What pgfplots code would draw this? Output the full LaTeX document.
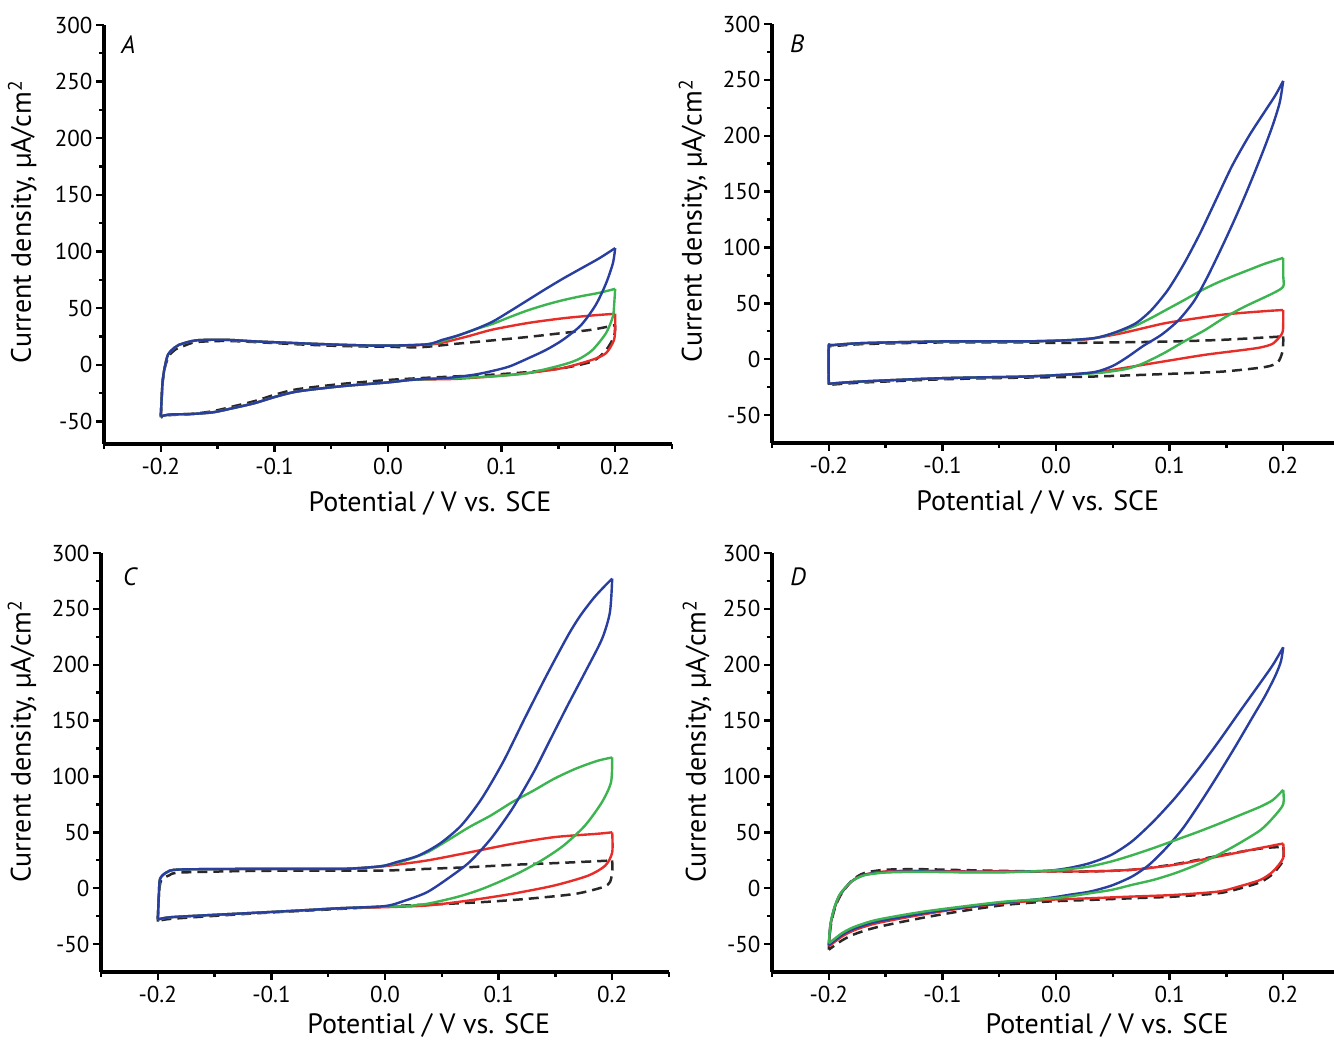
\documentclass[border=0pt]{standalone}
\usepackage{pgfplots}
\pgfplotsset{compat=1.18}
\usepackage{fontspec}
\setmainfont{PT Sans}

\definecolor{cvblue}{RGB}{40,62,160}
\definecolor{cvgreen}{RGB}{60,180,80}
\definecolor{cvred}{RGB}{232,45,40}
\definecolor{cvgray}{RGB}{40,40,40}

\newcommand{\ticksize}{\fontsize{23}{26}\selectfont}
\newcommand{\labsize}{\fontsize{28}{32}\selectfont}
\newcommand{\letsize}{\fontsize{25}{28}\selectfont\itshape}

\pgfplotsset{
  cvaxis/.style={
    scale only axis, width=568pt, height=419pt,
    anchor=south west,
    xmin=-0.25, xmax=0.25, ymin=-75, ymax=300,
    axis x line*=bottom, axis y line*=left,
    axis line style={-, line width=3.2pt, black},
    xtick={-0.2,-0.1,0,0.1,0.2},
    xticklabels={-0.2,-0.1,0.0,0.1,0.2},
    minor xtick={-0.25,-0.15,-0.05,0.05,0.15,0.25},
    ytick={-50,0,...,300},
    yticklabels={-50,0,50,100,150,200,250,300},
    minor ytick={-25,25,75,...,275},
    tick align=outside, major tick length=8pt, minor tick length=5pt,
    tick style={black, line width=2.4pt},
    minor tick style={black, line width=2.4pt},
    tick label style={font=\ticksize},
    xticklabel style={yshift=-3pt},
    xlabel={Potential / V vs. SCE},
    ylabel={Current density, µA/cm\textsuperscript{2}},
    label style={font=\labsize},
    clip=false,
    every axis plot/.append style={line width=2.4pt, line join=round, smooth, tension=0.45},
  },
  dashcv/.style={cvgray, line width=2.5pt, dash pattern=on 10pt off 6pt},
}

\begin{document}
\begin{tikzpicture}
\path[use as bounding box] (0,0) rectangle (1334pt,1040pt);

% ---------- A ----------
\begin{axis}[cvaxis, at={(104pt,596pt)}, ymin=-70,
  xlabel style={at={(axis description cs:0.574,-0.141)}, anchor=center},
  ylabel style={at={(axis description cs:-0.144,0.53)}, anchor=center}]
% dashed
\addplot[dashcv] coordinates {
(-0.2,-46.5) (-0.1985,-17) (-0.1965,-3) (-0.193,7.5) (-0.187,13.5) (-0.18,16.5)
(-0.169,20) (-0.143,21) (-0.117,20) (-0.079,18) (-0.041,16.5) (0.0,15.8)
(0.029,15.5) (0.06,18.5) (0.092,21.5) (0.123,24.5) (0.154,28) (0.18,31) (0.2,35)};
\addplot[dashcv] coordinates {
(0.2,35) (0.199,25) (0.192,13) (0.18,3) (0.154,-3) (0.123,-6.5) (0.092,-8.8) (0.06,-10.3)
(0.029,-11.8) (0.0,-13.5) (-0.041,-17) (-0.079,-21.5) (-0.098,-26) (-0.117,-32)
(-0.135,-36.5) (-0.154,-41) (-0.173,-43.5) (-0.192,-44.5) (-0.2,-46.5)};
% red
\addplot[cvred] coordinates {
(-0.2,-45.6) (-0.1985,-16) (-0.1965,-2) (-0.1936,9) (-0.188,15) (-0.184,17.6)
(-0.169,21.5) (-0.143,22) (-0.117,20.6) (-0.079,19) (-0.041,17.6) (-0.004,16.8)
(0.034,17.6) (0.048,19.5) (0.07,25) (0.092,31) (0.123,36.8) (0.154,41) (0.18,43.5) (0.2,45)};
\addplot[cvred] coordinates {
(0.2,45) (0.2,35) (0.199,22) (0.192,10.3) (0.18,4.4) (0.154,-2.9) (0.123,-7.4) (0.092,-10.3)
(0.06,-12.5) (0.034,-13) (0.019,-13.5) (0.0,-15.6) (-0.041,-19) (-0.079,-23.5) (-0.098,-28)
(-0.117,-33.8) (-0.135,-38) (-0.154,-42) (-0.173,-43.5) (-0.192,-44) (-0.2,-45.6)};
% green
\addplot[cvgreen] coordinates {
(-0.2,-45.6) (-0.1985,-16) (-0.1965,-2) (-0.1936,9) (-0.188,15) (-0.184,17.6)
(-0.169,21.5) (-0.143,22) (-0.117,20.6) (-0.079,19) (-0.041,17.6) (-0.004,16.8)
(0.034,18) (0.048,21) (0.06,25) (0.076,31) (0.092,36) (0.107,42) (0.123,48) (0.139,53)
(0.154,57) (0.17,60.5) (0.186,63.5) (0.2,67)};
\addplot[cvgreen] coordinates {
(0.2,67) (0.199,52) (0.198,42.6) (0.192,28) (0.18,13) (0.168,5) (0.154,0) (0.123,-7.4)
(0.092,-10.3) (0.06,-11.8) (0.034,-12.8) (0.019,-13.5) (0.0,-15.6) (-0.041,-19) (-0.079,-23.5) (-0.098,-28)
(-0.117,-33.8) (-0.135,-38) (-0.154,-42) (-0.173,-43.5) (-0.192,-44) (-0.2,-45.6)};
% blue
\addplot[cvblue] coordinates {
(-0.2,-45.6) (-0.1985,-16) (-0.1965,-2) (-0.1936,9) (-0.188,15) (-0.184,17.6)
(-0.169,21.5) (-0.143,22) (-0.117,20.6) (-0.079,19) (-0.041,17.6) (-0.004,16.8)
(0.034,18) (0.048,22) (0.062,26) (0.076,31) (0.092,38) (0.107,47) (0.123,57) (0.139,67)
(0.154,76) (0.17,85) (0.186,94) (0.2,103)};
\addplot[cvblue] coordinates {
(0.2,103) (0.198,89.7) (0.192,72) (0.183,53) (0.17,35) (0.154,22) (0.139,13) (0.123,5.5) (0.107,-1.5)
(0.092,-5.5) (0.076,-8.8) (0.051,-11.8) (0.034,-12.5) (0.019,-13.5) (0.0,-15.6) (-0.041,-19)
(-0.079,-23.5) (-0.098,-28) (-0.117,-33.8) (-0.135,-38) (-0.154,-42) (-0.173,-43.5)
(-0.192,-44) (-0.2,-45.6)};
\node[font=\letsize] at (axis description cs:0.043,0.952) {A};
\end{axis}

% ---------- B ----------
\begin{axis}[cvaxis, at={(772pt,597pt)},
  xlabel style={at={(axis description cs:0.468,-0.141)}, anchor=center},
  ylabel style={at={(axis description cs:-0.139,0.53)}, anchor=center}]
\addplot[dashcv] coordinates {
(-0.2,-23) (-0.2,10) (-0.197,11.5) (-0.17,13.5) (-0.1,15) (-0.03,15) (0.0,14.5)
(0.05,15) (0.1,15.8) (0.148,17.4) (0.2,20.4)};
\addplot[dashcv] coordinates {
(0.2,20.4) (0.2,14.4) (0.199,5.4) (0.195,-3)
(0.184,-7) (0.148,-11) (0.113,-12.6) (0.077,-14) (0.03,-15.6) (-0.03,-16.5)
(-0.1,-18) (-0.172,-21) (-0.2,-23)};
\addplot[cvred] coordinates {
(-0.2,-22) (-0.2,11) (-0.197,12.5) (-0.17,14.4) (-0.1,15.9) (-0.03,15.9) (0.006,16.8)
(0.024,17.4) (0.041,20) (0.059,23.5) (0.077,27.8) (0.095,32) (0.113,35) (0.148,40)
(0.184,43) (0.2,44)};
\addplot[cvred] coordinates {
(0.2,44) (0.2,32) (0.199,23) (0.191,14) (0.18,10.5) (0.166,8.4) (0.131,3.9)
(0.095,-2) (0.077,-5) (0.059,-8) (0.041,-11) (0.024,-13) (0.006,-14) (-0.03,-15.6)
(-0.1,-17) (-0.172,-20) (-0.2,-22)};
\addplot[cvgreen] coordinates {
(-0.2,-22) (-0.2,11) (-0.197,12.5) (-0.17,14.4) (-0.1,15.9) (-0.03,15.9) (0.006,16.8)
(0.034,18.9) (0.052,23.5) (0.07,30) (0.084,37) (0.0985,45) (0.113,53) (0.127,61)
(0.141,68) (0.155,74) (0.17,80) (0.184,85.5) (0.2,90.7)};
\addplot[cvgreen] coordinates {
(0.2,90.7) (0.2,75) (0.2,65) (0.191,59)
(0.166,47) (0.148,37) (0.131,26) (0.113,16) (0.095,5.4) (0.077,-3.6) (0.063,-8.5)
(0.045,-11.5) (0.034,-12.6) (0.006,-14) (-0.03,-15.6) (-0.1,-17) (-0.172,-20) (-0.2,-22)};
\addplot[cvblue] coordinates {
(-0.2,-22) (-0.2,11) (-0.197,12.5) (-0.17,14.4) (-0.1,15.9) (-0.03,15.9) (0.006,16.8)
(0.034,18.9) (0.052,24) (0.07,32) (0.084,44) (0.0985,62) (0.113,86) (0.127,113)
(0.141,143) (0.155,173) (0.17,200) (0.184,222) (0.193,236) (0.2,249)};
\addplot[cvblue] coordinates {
(0.2,249) (0.197,230) (0.191,210) (0.183,188) (0.174,165) (0.165,143) (0.155,120)
(0.1445,97) (0.133,73) (0.1215,52) (0.108,35) (0.093,22) (0.077,12) (0.063,2)
(0.05,-6) (0.034,-11.5) (0.006,-14) (-0.03,-15.6) (-0.1,-17) (-0.172,-20) (-0.2,-22)};
\node[font=\letsize] at (axis description cs:0.044,0.952) {B};
\end{axis}

% ---------- C ----------
\begin{axis}[cvaxis, at={(101pt,68pt)},
  xlabel style={at={(axis description cs:0.577,-0.127)}, anchor=center},
  ylabel style={at={(axis description cs:-0.139,0.55)}, anchor=center}]
\addplot[dashcv] coordinates {
(-0.2,-30) (-0.199,-5) (-0.197,7) (-0.19,11.5) (-0.18,14) (-0.114,15.5) (-0.039,15.8)
(0,15.8) (0.037,17.3) (0.074,18.8) (0.112,20.9) (0.149,22.4) (0.2,24.8)};
\addplot[dashcv] coordinates {
(0.2,24.8) (0.2,14.3)
(0.198,5.4) (0.192,1) (0.168,-5) (0.131,-9) (0.093,-12) (0.055,-14) (0.018,-15.5)
(-0.039,-18.5) (-0.114,-22.5) (-0.189,-27.5) (-0.2,-30)};
\addplot[cvred] coordinates {
(-0.2,-28) (-0.199,-5) (-0.198,8.4) (-0.192,14.3) (-0.181,16.7) (-0.114,17.3)
(-0.039,17.3) (-0.012,18.8) (0,19.7) (0.037,24.8) (0.074,32) (0.112,39.7) (0.149,45.7)
(0.187,48.7) (0.2,50)};
\addplot[cvred] coordinates {
(0.2,50) (0.2,32) (0.194,20.3) (0.179,11.3) (0.149,2.4) (0.112,-5)
(0.074,-11) (0.037,-15.5) (0,-17) (-0.039,-17.9) (-0.076,-20) (-0.114,-22)
(-0.151,-23.9) (-0.189,-26) (-0.2,-28)};
\addplot[cvgreen] coordinates {
(-0.2,-28) (-0.199,-5) (-0.198,8.4) (-0.192,14.3) (-0.181,16.7) (-0.114,17.3)
(-0.039,17.3) (-0.012,18.8) (0,20.3) (0.018,24.8) (0.037,32) (0.055,42.7) (0.074,54.6)
(0.093,65) (0.112,77) (0.131,87.5) (0.149,98) (0.168,107) (0.187,114) (0.2,117)};
\addplot[cvgreen] coordinates {
(0.2,117) (0.199,95) (0.191,77) (0.176,56) (0.157,38) (0.138,25) (0.119,14.3) (0.1,5.4)
(0.082,-2) (0.063,-8) (0.037,-14) (0.018,-16) (0,-16.5) (-0.039,-17.9) (-0.076,-20)
(-0.114,-22) (-0.151,-23.9) (-0.189,-26) (-0.2,-28)};
\addplot[cvblue] coordinates {
(-0.2,-28) (-0.199,-5) (-0.198,8.4) (-0.192,14.3) (-0.181,16.7) (-0.114,17.3)
(-0.039,17.3) (-0.012,18.8) (0,20.3) (0.01,23.3) (0.029,29) (0.048,39.7) (0.067,56)
(0.085,80) (0.104,113) (0.123,152) (0.142,190) (0.161,226) (0.172,244) (0.184,260)
(0.194,271) (0.2,277)};
\addplot[cvblue] coordinates {
(0.2,277) (0.198,247) (0.191,223) (0.176,193) (0.161,164) (0.146,134) (0.131,104)
(0.112,71) (0.093,44) (0.074,23) (0.055,8.4) (0.037,-3.6) (0.018,-11) (0,-16)
(-0.039,-17.9) (-0.076,-20) (-0.114,-22) (-0.151,-23.9) (-0.189,-26) (-0.2,-28)};
\node[font=\letsize] at (axis description cs:0.051,0.943) {C};
\end{axis}

% ---------- D ----------
\begin{axis}[cvaxis, at={(772pt,68pt)},
  xlabel style={at={(axis description cs:0.59,-0.127)}, anchor=center},
  ylabel style={at={(axis description cs:-0.132,0.55)}, anchor=center}]
\addplot[dashcv] coordinates {
(-0.2,-55) (-0.1985,-35) (-0.195,-19) (-0.19,-7) (-0.18,6.5) (-0.169,13.5) (-0.15,16.5)
(-0.12,17) (-0.083,16.2) (-0.045,15.5) (-0.008,15) (0.03,15) (0.067,16.5) (0.105,21.5)
(0.143,29) (0.18,35.5) (0.2,37)};
\addplot[dashcv] coordinates {
(0.2,37) (0.2,25) (0.191,13) (0.18,5.5) (0.161,-0.5)
(0.143,-4.5) (0.105,-7.5) (0.067,-9) (0.03,-10.5) (-0.008,-12) (-0.045,-15)
(-0.083,-20.5) (-0.12,-27) (-0.158,-35) (-0.177,-41) (-0.188,-46.5) (-0.2,-55)};
\addplot[cvred] coordinates {
(-0.2,-52) (-0.1985,-33) (-0.195,-18) (-0.19,-6) (-0.18,6) (-0.169,12) (-0.15,15)
(-0.12,15.6) (-0.083,15) (-0.045,15) (-0.008,15) (0.03,15) (0.067,16.5) (0.105,21)
(0.143,28.4) (0.18,36) (0.2,40)};
\addplot[cvred] coordinates {
(0.2,40) (0.2,27) (0.191,15) (0.18,7.5) (0.161,1.5) (0.143,-3)
(0.105,-6) (0.067,-7.5) (0.03,-9) (-0.008,-10.5) (-0.045,-13.5) (-0.083,-18)
(-0.12,-24) (-0.158,-31.4) (-0.177,-37.4) (-0.188,-43) (-0.2,-52)};
\addplot[cvblue] coordinates {
(-0.2,-51) (-0.1985,-32.5) (-0.195,-17.5) (-0.19,-5.5) (-0.18,6) (-0.169,11.8)
(-0.15,14.5) (-0.12,15) (-0.083,14.6) (-0.045,14.6) (-0.008,15.6) (0.011,18)
(0.03,22.5) (0.049,30) (0.067,42) (0.086,60) (0.105,81) (0.124,105) (0.143,131)
(0.161,157) (0.18,184) (0.191,200) (0.2,215.6)};
\addplot[cvblue] coordinates {
(0.2,215.6) (0.198,203) (0.193,190) (0.184,172) (0.173,153)
(0.158,127) (0.143,102) (0.128,78) (0.112,54) (0.097,36) (0.082,21) (0.067,10.5)
(0.049,2.4) (0.03,-3) (0.011,-6) (-0.008,-9) (-0.045,-12.8) (-0.083,-17.4)
(-0.12,-23) (-0.158,-30) (-0.177,-36) (-0.188,-41.5) (-0.2,-51)};
\addplot[cvgreen] coordinates {
(-0.2,-49.4) (-0.1985,-32) (-0.195,-17) (-0.19,-5) (-0.18,6) (-0.169,11.5) (-0.15,14)
(-0.12,14.6) (-0.083,14.2) (-0.045,14.2) (-0.008,15.6) (0.011,17) (0.03,19.5)
(0.049,24) (0.067,29.5) (0.086,36) (0.105,43) (0.124,50) (0.143,57.5) (0.161,65)
(0.18,73) (0.191,79) (0.2,88)};
\addplot[cvgreen] coordinates {
(0.2,88) (0.2,75) (0.191,63) (0.18,52) (0.161,40) (0.143,30)
(0.124,21) (0.105,13.5) (0.086,7.5) (0.067,3) (0.049,-1.5) (0.03,-4.5) (0.011,-7.5)
(-0.008,-9.6) (-0.045,-12) (-0.083,-16.5) (-0.12,-21.5) (-0.158,-28.4) (-0.177,-34.4)
(-0.188,-40) (-0.2,-49.4)};
\node[font=\letsize] at (axis description cs:0.046,0.943) {D};
\end{axis}
\end{tikzpicture}
\end{document}
